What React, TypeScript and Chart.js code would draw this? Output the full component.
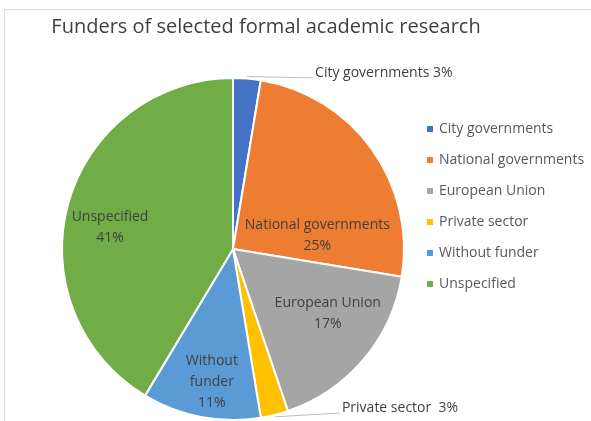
import React, { useEffect, useRef } from "react";
import { Chart, registerables } from "chart.js";

Chart.register(...registerables);

const TITLE = "Funders of selected formal academic research";
const categories = [
  "City governments",
  "National governments",
  "European Union",
  "Private sector",
  "Without funder",
  "Unspecified",
];
const shares = [2.6, 25, 17.2, 2.6, 11.2, 41.4];
const colors = ["#4472C4", "#ED7D31", "#A5A5A5", "#FFC000", "#5B9BD5", "#70AD47"];
// label text lines inside slices (category name split as Excel wrapped it)
const labelLines = [
  ["City governments"],
  ["National governments"],
  ["European Union"],
  ["Private sector"],
  ["Without", "funder"],
  ["Unspecified"],
];

// label placement: inside = polar (deg clockwise from top, radius fraction); outside = text anchor offset in radius units
const labelPlacement: any[] = [
  { outside: true, tx: 0.48, ty: -1.03, sep: " " },
  { angle: 80.6, r: 0.5 },
  { angle: 124.2, r: 0.67 },
  { outside: true, tx: 0.637, ty: 0.93, sep: "  " },
  { angle: 189, r: 0.79 },
  { angle: 279.9, r: 0.73 },
];

const FONT = '"Open Sans", "Liberation Sans", sans-serif';

const overlay = {
  id: "overlay",
  afterDraw(chart: any) {
    const ctx = chart.ctx as CanvasRenderingContext2D;
    const meta = chart.getDatasetMeta(0);
    const arcs = meta.data;
    const cx = arcs[0].x;
    const cy = arcs[0].y;
    const R = arcs[0].outerRadius;
    const total = shares.reduce((a, b) => a + b, 0);
    ctx.save();

    // frame
    ctx.strokeStyle = "#D9D9D9";
    ctx.lineWidth = 1;
    ctx.beginPath();
    ctx.moveTo(4.5, 421);
    ctx.lineTo(4.5, 9.5);
    ctx.lineTo(591, 9.5);
    ctx.stroke();

    // title
    ctx.fillStyle = "#404040";
    ctx.textAlign = "center";
    ctx.textBaseline = "middle";
    ctx.font = `20px ${FONT}`;
    ctx.fillText(TITLE, 266, 27);

    // data labels
    ctx.font = `14px ${FONT}`;
    ctx.fillStyle = "#404040";
    arcs.forEach((arc: any, i: number) => {
      const pct = Math.round((shares[i] / total) * 100) + "%";
      const p = labelPlacement[i];
      if (p.outside) {
        const mid = (arc.startAngle + arc.endAngle) / 2;
        const ax = cx + Math.cos(mid) * (R + 2);
        const ay = cy + Math.sin(mid) * (R + 2);
        const tx = cx + p.tx * R;
        const ty = cy + p.ty * R;
        ctx.strokeStyle = "#BFBFBF";
        ctx.lineWidth = 1;
        ctx.beginPath();
        ctx.moveTo(ax, ay);
        ctx.lineTo(tx - 2, ty + 5);
        ctx.stroke();
        ctx.textAlign = "left";
        ctx.textBaseline = "middle";
        ctx.fillText(labelLines[i].join(" ") + p.sep + pct, tx, ty);
      } else {
        const a = (p.angle * Math.PI) / 180;
        const x = cx + Math.sin(a) * p.r * R;
        const y = cy - Math.cos(a) * p.r * R;
        const lines = [...labelLines[i], pct];
        const lh = 21;
        const y0 = y - ((lines.length - 1) * lh) / 2;
        ctx.textAlign = "center";
        ctx.textBaseline = "middle";
        lines.forEach((t, k) => ctx.fillText(t, x, y0 + k * lh));
      }
    });

    // legend
    ctx.font = `14px ${FONT}`;
    ctx.textAlign = "left";
    ctx.textBaseline = "middle";
    categories.forEach((c, i) => {
      const y = 129 + i * 31;
      ctx.fillStyle = colors[i];
      ctx.fillRect(427, y - 3, 6, 6);
      ctx.fillStyle = "#595959";
      ctx.fillText(c, 439, y);
    });
    ctx.restore();
  },
};

export default function App() {
  const ref = useRef<HTMLCanvasElement>(null);
  useEffect(() => {
    document.body.style.margin = "0";
    const chart = new Chart(ref.current!, {
      type: "pie",
      data: {
        labels: categories,
        datasets: [
          {
            data: shares,
            backgroundColor: colors,
            borderColor: "#FFFFFF",
            borderWidth: 2,
          },
        ],
      },
      options: {
        responsive: false,
        animation: false,
        layout: { padding: { left: 61, top: 77, right: 186, bottom: 0 } },
        plugins: {
          legend: { display: false },
          tooltip: { enabled: false },
          title: { display: false },
        },
      },
      plugins: [overlay],
    });
    return () => chart.destroy();
  }, []);
  return (
    <div style={{ position: "fixed", left: 0, top: 0, width: 591, height: 421, background: "#fff" }}>
      <canvas ref={ref} width={591} height={421} />
    </div>
  );
}
